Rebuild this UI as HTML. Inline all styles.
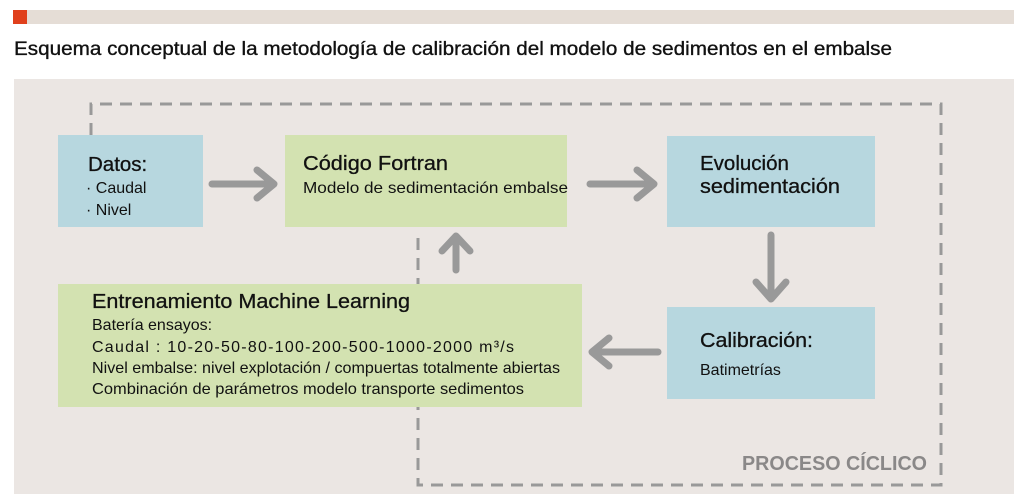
<!DOCTYPE html>
<html><head><meta charset="utf-8"><style>
html,body{margin:0;padding:0;background:#fff;width:1024px;height:494px;overflow:hidden}
svg{display:block;font-family:"Liberation Sans",sans-serif}
</style></head><body>
<svg width="1024" height="494" viewBox="0 0 1024 494" xmlns="http://www.w3.org/2000/svg">
<rect x="14" y="10" width="1000" height="14" fill="#e5ddd6"/>
<rect x="13" y="10" width="14" height="14" fill="#e0401c"/>
<text x="14" y="55" font-size="19.5" fill="#111" stroke="#111" stroke-width="0.35" textLength="878" lengthAdjust="spacingAndGlyphs">Esquema conceptual de la metodología de calibración del modelo de sedimentos en el embalse</text>
<rect x="14" y="79" width="1000" height="415" fill="#ebe6e3"/>
<g stroke="#999" stroke-width="3" fill="none" stroke-dasharray="12 8">
<path d="M91 135 V104 H941 V485 H418 V233"/>
</g>
<rect x="58" y="135" width="145" height="92" fill="#b7d7df"/>
<rect x="285" y="135" width="282" height="92" fill="#d3e2b1"/>
<rect x="667" y="136" width="208" height="91" fill="#b7d7df"/>
<rect x="667" y="307" width="208" height="92" fill="#b7d7df"/>
<rect x="58" y="284" width="524" height="123" fill="#d3e2b1"/>
<g stroke="#999" stroke-width="7" fill="none" stroke-linecap="round" stroke-linejoin="round">
<path d="M212 184 H273 M257 170 L274 184 L257 198"/>
<path d="M590 184 H653 M637 170 L654 184 L637 198"/>
<path d="M771 235 V297 M756 282 L771 299 L786 282"/>
<path d="M658 352 H594 M609 338 L592 352 L609 366"/>
<path d="M456 270 V238 M442 251 L456 236 L470 251"/>
</g>
<g fill="#111">
<text x="88" y="171" font-size="20.5" stroke="#111" stroke-width="0.3">Datos:</text>
<text x="86" y="193" font-size="16">· Caudal</text>
<text x="86" y="215" font-size="16">· Nivel</text>
<text x="303" y="170" font-size="20.5" stroke="#111" stroke-width="0.3" textLength="145" lengthAdjust="spacingAndGlyphs">Código Fortran</text>
<text x="303" y="193" font-size="16" textLength="265" lengthAdjust="spacingAndGlyphs">Modelo de sedimentación embalse</text>
<text x="700" y="170" font-size="20.5" stroke="#111" stroke-width="0.3">Evolución</text>
<text x="700" y="193" font-size="20.5" stroke="#111" stroke-width="0.3" textLength="140" lengthAdjust="spacingAndGlyphs">sedimentación</text>
<text x="700" y="347" font-size="20.5" stroke="#111" stroke-width="0.3" textLength="113" lengthAdjust="spacingAndGlyphs">Calibración:</text>
<text x="700" y="375" font-size="16">Batimetrías</text>
<text x="92" y="308" font-size="20.5" stroke="#111" stroke-width="0.3" textLength="318" lengthAdjust="spacingAndGlyphs">Entrenamiento Machine Learning</text>
<text x="92" y="330" font-size="16">Batería ensayos:</text>
<text x="92" y="352" font-size="16" textLength="422" lengthAdjust="spacing">Caudal : 10-20-50-80-100-200-500-1000-2000 m³/s</text>
<text x="92" y="373" font-size="16" textLength="468" lengthAdjust="spacingAndGlyphs">Nivel embalse: nivel explotación / compuertas totalmente abiertas</text>
<text x="92" y="394" font-size="16" textLength="432" lengthAdjust="spacingAndGlyphs">Combinación de parámetros modelo transporte sedimentos</text>
</g>
<text x="742" y="470" font-size="20" font-weight="bold" fill="#8a8888" textLength="185" lengthAdjust="spacingAndGlyphs">PROCESO CÍCLICO</text>
</svg>
</body></html>
